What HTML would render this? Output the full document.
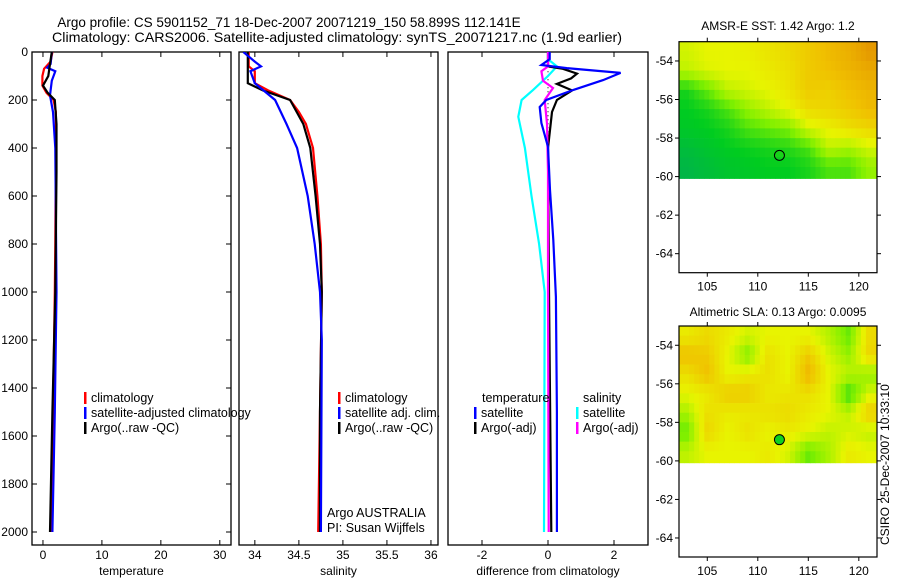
<!DOCTYPE html>
<html><head><meta charset="utf-8"><style>
html,body{margin:0;padding:0;background:#fff;}
svg{display:block;font-family:"Liberation Sans",sans-serif;}
</style></head><body>
<svg id="chart" width="900" height="580" viewBox="0 0 900 580">
<text x="289" y="27" font-size="13.5" text-anchor="middle">Argo profile: CS 5901152_71 18-Dec-2007 20071219_150 58.899S 112.141E</text>
<text x="337" y="42" font-size="14" text-anchor="middle" textLength="570" lengthAdjust="spacingAndGlyphs">Climatology: CARS2006. Satellite-adjusted climatology: synTS_20071217.nc (1.9d earlier)</text>
<text x="778" y="30" font-size="12" text-anchor="middle">AMSR-E SST: 1.42 Argo: 1.2</text>
<text x="778" y="316" font-size="12" text-anchor="middle">Altimetric SLA: 0.13 Argo: 0.0095</text>
<text transform="translate(889,545) rotate(-90)" font-size="12">CSIRO 25-Dec-2007 10:33:10</text>
<g id="layer"></g>
</svg>
<script>
// ---- data ----
const tClimD=[0,40,70,100,140,170,200,250,400,800,1000,1500,2000];
const tClimV=[1.6,1.3,0.2,-0.1,-0.1,0.6,1.8,2.2,2.2,2.1,2.0,1.7,1.4];
const tSatD=[0,50,65,80,120,180,250,400,1000,1500,2000];
const tSatV=[1.5,1.3,0.7,2.1,1.5,1.2,1.7,2.1,2.3,2.0,1.6];
const tArgoD=[0,50,100,140,170,200,300,500,1000,1500,2000];
const tArgoV=[1.5,1.2,0.9,0.0,0.8,2.0,2.3,2.3,2.1,1.6,1.2];

const sClimD=[0,60,80,130,160,200,250,300,400,600,800,1000,1500,2000];
const sClimV=[33.93,33.93,34.0,34.0,34.15,34.4,34.5,34.58,34.66,34.71,34.75,34.76,34.74,34.72];
const sSatD=[0,40,60,80,130,200,300,400,600,800,1000,1200,2000];
const sSatV=[33.87,34.0,34.07,33.95,34.0,34.23,34.36,34.48,34.6,34.68,34.74,34.76,34.75];
const sArgoD=[0,130,160,200,300,400,600,800,1000,1500,2000];
const sArgoV=[33.92,33.92,34.09,34.4,34.55,34.63,34.69,34.74,34.76,34.74,34.74];

const dTSatD=[0,30,54,67,87,117,158,200,229,296,395,575,783,1020,1500,2000];
const dTSatV=[0.05,0.05,-0.2,0.57,2.2,1.67,0.77,-0.05,-0.25,-0.2,0,0.06,0.16,0.24,0.27,0.27];
const dTArgoD=[0,60,70,90,110,133,160,200,250,400,1000,2000];
const dTArgoV=[0,0,0.45,0.88,0.7,0.27,0.73,0.27,0.12,0,0.03,0.1];
const dSSatD=[0,30,60,100,158,200,270,400,600,800,1000,2000];
const dSSatV=[0,0,0.27,0,-0.45,-0.8,-0.9,-0.7,-0.5,-0.27,-0.1,-0.12];
const dSArgoD=[0,60,80,120,150,200,300,500,1000,2000];
const dSArgoV=[0,0,-0.2,-0.15,0.15,-0.1,-0.03,0,0,0.02];

const depthTicks=[0,200,400,600,800,1000,1200,1400,1600,1800,2000];
const tempTicks=[0,10,20,30];
const salTicks=[34,34.5,35,35.5,36];
const diffTicks=[-2,0,2];
const latTicks=[-54,-56,-58,-60,-62,-64];
const lonTicks=[105,110,115,120];
const gridLons=[103,105,107,109,111,113,115,117,119,121];
const gridLats=[-53.5,-54.5,-55.5,-56.5,-57.5,-58.5,-59.5];
const sstGrid=[
[2.8,3.0,3.0,3.1,3.3,3.5,3.8,4.1,4.3,4.7],
[2.6,2.9,3.0,3.0,3.2,3.4,3.8,4.0,4.2,4.4],
[1.2,1.8,2.6,2.8,3.0,3.3,3.8,3.7,4.0,4.2],
[1.0,1.2,1.6,2.2,2.6,3.0,3.5,3.6,3.8,4.1],
[0.9,1.0,1.2,1.6,1.8,2.0,2.8,3.1,3.4,3.6],
[0.6,0.8,1.0,1.1,1.2,1.3,1.6,2.6,2.4,2.8],
[0.4,0.6,0.8,0.9,1.0,1.0,1.2,1.6,1.6,2.2]];
const slaGrid=[
[3.2,3.5,3.2,2.8,3.0,3.0,3.0,2.5,1.8,3.5],
[4.0,3.8,3.0,2.0,3.4,3.0,3.8,2.8,2.2,3.6],
[3.4,4.0,3.0,3.2,3.4,3.0,4.2,3.0,2.6,2.2],
[3.0,3.2,3.8,3.8,3.2,3.3,3.4,3.0,1.4,2.8],
[2.4,3.4,3.2,3.2,3.4,3.5,3.2,3.0,2.6,3.8],
[1.8,3.6,3.0,3.4,3.0,3.2,3.0,2.6,2.8,2.6],
[2.6,3.0,3.0,3.0,3.2,2.8,1.8,2.4,3.2,3.0]];
const floatLon=112.141, floatLat=-58.899;

// ---- helpers ----
const NS='http://www.w3.org/2000/svg';
const layer=document.getElementById('layer');
function mk(tag,attrs,parent){const e=document.createElementNS(NS,tag);for(const k in attrs)e.setAttribute(k,attrs[k]);(parent||layer).appendChild(e);return e;}
const PT=52,PB=545;
const yD=d=>PT+d*0.24;
const panels=[
 {x0:32,x1:231,v0:-1.86,v1:31.9,ticks:tempTicks,label:'temperature',name:'temperature-panel'},
 {x0:239,x1:438,v0:33.82,v1:36.08,ticks:salTicks,label:'salinity',name:'salinity-panel'},
 {x0:448,x1:648,v0:-3.03,v1:3.03,ticks:diffTicks,label:'difference from climatology',name:'difference-panel'}];
panels.forEach((p,i)=>{p.sx=v=>p.x0+(v-p.v0)/(p.v1-p.v0)*(p.x1-p.x0);
 const c=mk('clipPath',{id:'clip'+i});mk('rect',{x:p.x0,y:PT,width:p.x1-p.x0,height:PB-PT},c);});

function line(p,i,D,V,color,name,w){
 const pts=D.map((d,k)=>p.sx(V[k]).toFixed(1)+','+yD(d).toFixed(1)).join(' ');
 const el=mk('polyline',{points:pts,fill:'none',stroke:color,'stroke-width':w||2.2,'clip-path':'url(#clip'+i+')'});
 
 
}
panels.forEach((p,i)=>{
 const r=mk('rect',{x:p.x0,y:PT,width:p.x1-p.x0,height:PB-PT,fill:'none',stroke:'#000','stroke-width':1.3});
 
 
 p.ticks.forEach(t=>{const x=p.sx(t);
  mk('line',{x1:x,x2:x,y1:PB,y2:PB-5,stroke:'#000'});mk('line',{x1:x,x2:x,y1:PT,y2:PT+5,stroke:'#000'});
  const tx=mk('text',{x:x,y:559,'font-size':12,'text-anchor':'middle'});tx.textContent=t;
  
  });
 const lb=mk('text',{x:(p.x0+p.x1)/2,y:575,'font-size':12,'text-anchor':'middle'});lb.textContent=p.label;
 
 
});
const p0=panels[0];
depthTicks.forEach(d=>{const y=yD(d);
 mk('line',{x1:p0.x0,x2:p0.x0+5,y1:y,y2:y,stroke:'#000'});mk('line',{x1:p0.x1,x2:p0.x1-5,y1:y,y2:y,stroke:'#000'});
 const tx=mk('text',{x:28,y:y+4,'font-size':12,'text-anchor':'end'});tx.textContent=d;
 
 });

line(panels[0],0,tClimD,tClimV,'#f00','temp-climatology-line');
line(panels[0],0,tSatD,tSatV,'#00f','temp-satellite-line');
line(panels[0],0,tArgoD,tArgoV,'#000','temp-argo-line');
line(panels[1],1,sClimD,sClimV,'#f00','sal-climatology-line');
line(panels[1],1,sArgoD,sArgoV,'#000','sal-argo-line');
line(panels[1],1,sSatD,sSatV,'#00f','sal-satellite-line');
const p2=panels[2];
mk('line',{x1:p2.sx(0),x2:p2.sx(0),y1:yD(80),y2:yD(450),stroke:'#000','stroke-dasharray':'1 3','stroke-width':1});
line(p2,2,dSSatD,dSSatV,'#0ff','diff-sal-satellite-line');
line(p2,2,dTArgoD,dTArgoV,'#000','diff-temp-argo-line');
line(p2,2,dSArgoD,dSArgoV,'#f0f','diff-sal-argo-line');
line(p2,2,dTSatD,dTSatV,'#00f','diff-temp-satellite-line');

function legend(x,y,color,text,name){
 if(color){mk('rect',{x:x,y:y-10,width:2.5,height:12,fill:color});}
 const t=mk('text',{x:x+7,y:y,'font-size':12.5});t.textContent=text;
 
 
}
legend(84,402,'#f00','climatology','legend-climatology');
legend(84,417,'#00f','satellite-adjusted climatology','legend-satellite-adjusted');
legend(84,432,'#000','Argo(..raw -QC)','legend-argo-raw');
legend(338,402,'#f00','climatology','legend-sal-climatology');
legend(338,417,'#00f','satellite adj. clim.','legend-sal-satellite');
legend(338,432,'#000','Argo(..raw -QC)','legend-sal-argo');
legend(475,402,null,'temperature','legend-temperature-header');
legend(474,417,'#00f','satellite','legend-temp-satellite');
legend(474,432,'#000','Argo(-adj)','legend-temp-argo');
legend(576,402,null,'salinity','legend-salinity-header');
legend(576,417,'#0ff','satellite','legend-sal-sat');
legend(576,432,'#f0f','Argo(-adj)','legend-sal-argo-adj');
legend(320,517,null,'Argo AUSTRALIA','argo-australia-label');
legend(320,532,null,'PI: Susan Wijffels','pi-label');

// ---- maps ----
const cstops=[[0,[0,168,96]],[1,[0,204,32]],[2,[128,240,0]],[3,[232,244,0]],[4,[240,192,0]],[5,[224,136,0]]];
function cmap(v){v=Math.max(0,Math.min(5,v));const i=Math.min(4,Math.floor(v)),f=v-i;const a=cstops[i][1],b=cstops[i+1][1];
 return 'rgb('+a.map((c,k)=>Math.round(c+(b[k]-c)*f)).join(',')+')';}
function interp(grid,lon,lat){
 let fx=(lon-gridLons[0])/2, fy=(gridLats[0]-lat);
 fx=Math.max(0,Math.min(gridLons.length-1,fx)); fy=Math.max(0,Math.min(gridLats.length-1,fy));
 const i=Math.min(gridLons.length-2,Math.floor(fx)),j=Math.min(gridLats.length-2,Math.floor(fy));const u=fx-i,w=fy-j;
 return grid[j][i]*(1-u)*(1-w)+grid[j][i+1]*u*(1-w)+grid[j+1][i]*(1-u)*w+grid[j+1][i+1]*u*w;}
function map(top,grid,name,dotFill){
 const L=679,R=877,B=top+231;
 const sx=lon=>L+(lon-102.2)/(121.8-102.2)*(R-L);
 const sy=lat=>top+(-53-lat)*19.27;
 const g=mk('g',{});
 
 
 for(let lat=-53;lat>-60.1;lat-=0.5){for(let lon=102.2;lon<121.8;lon+=0.5){
  const x=sx(lon),y=sy(lat),w=Math.min(sx(lon+0.5),R)-x,h=sy(Math.max(lat-0.5,-60.1))-y;
  mk('rect',{x:x.toFixed(1),y:y.toFixed(1),width:(w+0.4).toFixed(1),height:(h+0.4).toFixed(1),fill:cmap(interp(grid,lon+0.25,lat-0.25))},g);}}
 mk('rect',{x:L,y:top,width:R-L,height:B-top,fill:'none',stroke:'#000','stroke-width':1.2});
 latTicks.forEach(t=>{const y=sy(t);mk('line',{x1:L,x2:L-4,y1:y,y2:y,stroke:'#000'});mk('line',{x1:R,x2:R+4,y1:y,y2:y,stroke:'#000'});
  const tx=mk('text',{x:L-6,y:y+4,'font-size':12,'text-anchor':'end'});tx.textContent=t;
  
  });
 lonTicks.forEach(t=>{const x=sx(t);mk('line',{x1:x,x2:x,y1:B,y2:B+4,stroke:'#000'});mk('line',{x1:x,x2:x,y1:top,y2:top-4,stroke:'#000'});
  const tx=mk('text',{x:x,y:B+18,'font-size':12,'text-anchor':'middle'});tx.textContent=t;
  
  });
 const c=mk('circle',{cx:sx(floatLon),cy:sy(floatLat),r:5,fill:dotFill,stroke:'#000','stroke-width':1});
 
 
}
map(41.7,sstGrid,'sst-map','none');
map(326,slaGrid,'sla-map','#10d020');
</script>
</body></html>
